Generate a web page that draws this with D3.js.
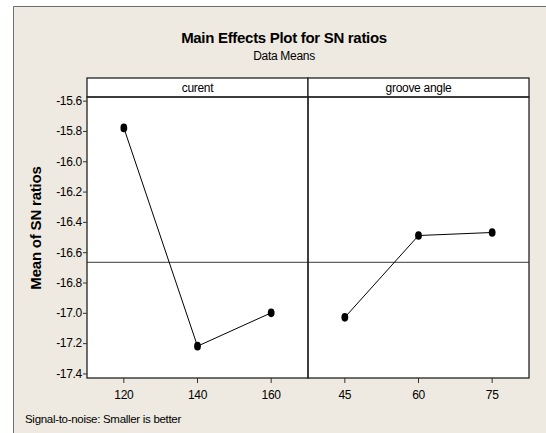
<!DOCTYPE html>
<html>
<head>
<meta charset="utf-8">
<script src="https://cdn.jsdelivr.net/npm/d3@7"></script>
<style>
  html, body { margin: 0; padding: 0; background: #ffffff; }
  svg { display: block; }
</style>
</head>
<body>
<div id="chart"></div>
<script>
// Main effects plot for SN ratios (Minitab style)
const factors = ['curent', 'groove angle'];
const currentLevels = ['120', '140', '160'];
const currentMeans = [-15.78, -17.22, -17.00];
const grooveLevels = ['45', '60', '75'];
const grooveMeans = [-17.03, -16.49, -16.47];
const yTicks = [-15.6, -15.8, -16.0, -16.2, -16.4, -16.6, -16.8, -17.0, -17.2, -17.4];

const W = 546, H = 433;
const font = '"Liberation Sans", Arial, sans-serif';
const bg = '#eeeae1';

const plotTop = 97, plotBottom = 378, stripTop = 78;
const panelEdges = [87, 308, 529];

const svg = d3.select('#chart').append('svg')
  .attr('width', W).attr('height', H);

// Frame background
svg.append('rect')
  .attr('x', 13).attr('y', 6)
  .attr('width', W).attr('height', H)
  .attr('fill', bg);
svg.append('path')
  .attr('d', `M13.5,${H}V6.5H${W}`)
  .attr('fill', 'none')
  .attr('stroke', '#6e6e6e')
  .attr('stroke-width', 1);

// Titles
svg.append('text')
  .attr('x', 284).attr('y', 43)
  .attr('text-anchor', 'middle')
  .attr('font-family', font).attr('font-size', '15px').attr('font-weight', 'bold')
  .attr('letter-spacing', '-0.3')
  .text('Main Effects Plot for SN ratios');
svg.append('text')
  .attr('x', 284).attr('y', 60)
  .attr('text-anchor', 'middle')
  .attr('font-family', font).attr('font-size', '12px')
  .attr('letter-spacing', '-0.3')
  .text('Data Means');

const y = d3.scaleLinear()
  .domain([-15.576, -17.43])
  .range([plotTop, plotBottom]);

const grandMean = d3.mean(currentMeans);

const panels = [
  { name: factors[0], levels: currentLevels, means: currentMeans },
  { name: factors[1], levels: grooveLevels, means: grooveMeans },
];

panels.forEach((p, i) => {
  const x0 = panelEdges[i], x1 = panelEdges[i + 1];
  const x = d3.scaleBand().domain(p.levels).range([x0, x1]).padding(0);

  // panel plot area
  svg.append('rect')
    .attr('x', x0).attr('y', plotTop)
    .attr('width', x1 - x0).attr('height', plotBottom - plotTop)
    .attr('fill', '#ffffff');

  // strip
  svg.append('rect')
    .attr('x', x0).attr('y', stripTop)
    .attr('width', x1 - x0).attr('height', plotTop - stripTop)
    .attr('fill', '#ffffff')
    .attr('stroke', '#222').attr('stroke-width', 1.3);
  svg.append('text')
    .attr('x', (x0 + x1) / 2).attr('y', stripTop + 14)
    .attr('text-anchor', 'middle')
    .attr('font-family', font).attr('font-size', '12px')
    .attr('letter-spacing', '-0.3')
    .text(p.name);

  // x axis
  const xAxis = svg.append('g')
    .attr('transform', `translate(0,${plotBottom})`)
    .call(d3.axisBottom(x).tickSize(5).tickSizeOuter(0));
  xAxis.select('.domain').remove();
  xAxis.selectAll('line').attr('stroke', '#333');
  xAxis.selectAll('text')
    .attr('font-family', font).attr('font-size', '12px')
    .attr('letter-spacing', '-0.3')
    .attr('fill', '#000').attr('dy', '1.05em');

  p.xScale = x;
});

// reference line at grand mean
svg.append('line')
  .attr('x1', panelEdges[0]).attr('x2', panelEdges[2])
  .attr('y1', y(grandMean)).attr('y2', y(grandMean))
  .attr('stroke', '#3a3a3a').attr('stroke-width', 1);

panels.forEach((p) => {
  const x = p.xScale;
  const cx = d => x(d) + x.bandwidth() / 2;
  const line = d3.line()
    .x((d, j) => cx(p.levels[j]))
    .y(d => y(d));
  svg.append('path')
    .datum(p.means)
    .attr('d', line)
    .attr('fill', 'none')
    .attr('stroke', '#000').attr('stroke-width', 1);
  svg.selectAll(null)
    .data(p.means)
    .enter().append('ellipse')
    .attr('cx', (d, j) => cx(p.levels[j]))
    .attr('cy', d => y(d))
    .attr('rx', 3.4).attr('ry', 4.3)
    .attr('fill', '#000');
});

// panel borders
panels.forEach((p, i) => {
  svg.append('rect')
    .attr('x', panelEdges[i]).attr('y', plotTop)
    .attr('width', panelEdges[i + 1] - panelEdges[i]).attr('height', plotBottom - plotTop)
    .attr('fill', 'none')
    .attr('stroke', '#222').attr('stroke-width', 1.3);
});

// y axis
const yAxis = svg.append('g')
  .attr('transform', `translate(${panelEdges[0]},0)`)
  .call(d3.axisLeft(y).tickValues(yTicks).tickFormat(d3.format('.1f')).tickSize(4).tickSizeOuter(0));
yAxis.select('.domain').remove();
yAxis.selectAll('line').attr('stroke', '#333');
yAxis.selectAll('text')
  .attr('font-family', font).attr('font-size', '12px')
  .attr('letter-spacing', '-0.3')
  .attr('fill', '#000').attr('x', -5)
  .text(d => d3.format('.1f')(d).replace('−', '-'));

// y title
svg.append('text')
  .attr('transform', `translate(41,${(stripTop + plotBottom) / 2}) rotate(-90)`)
  .attr('text-anchor', 'middle')
  .attr('font-family', font).attr('font-size', '15px').attr('font-weight', 'bold')
  .attr('letter-spacing', '-0.2')
  .text('Mean of SN ratios');

// footnote
svg.append('text')
  .attr('x', 25).attr('y', 423)
  .attr('font-family', font).attr('font-size', '11.5px')
  .attr('letter-spacing', '-0.3')
  .text('Signal-to-noise: Smaller is better');
</script>
</body>
</html>
